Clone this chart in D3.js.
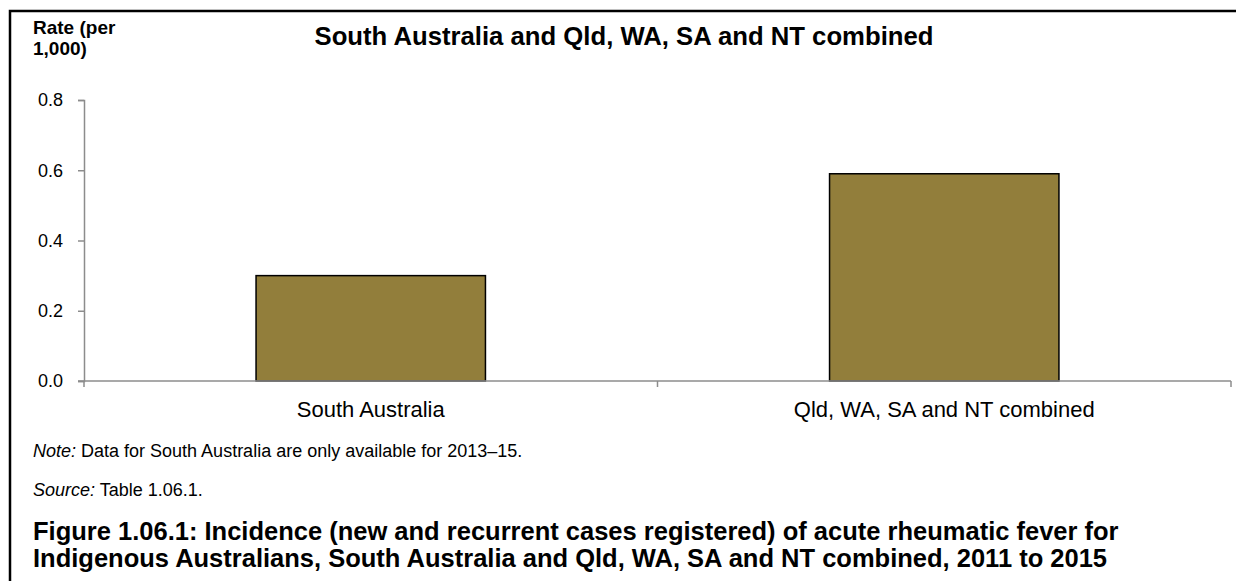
<!DOCTYPE html>
<html>
<head>
<meta charset="utf-8">
<script src="https://cdn.jsdelivr.net/npm/d3@7"></script>
<style>
  body { margin: 0; background: #fff; }
  svg { display: block; font-family: "Liberation Sans", Arial, sans-serif; }
</style>
</head>
<body>
<div id="chart"></div>
<script>
const categories = ["South Australia", "Qld, WA, SA and NT combined"]
const rates = [0.30, 0.59]
const yTicks = [0, 0.2, 0.4, 0.6, 0.8]

const width = 1236
const height = 581
const plot = { left: 84, right: 1231, top: 100, bottom: 381 }

const svg = d3.select("#chart").append("svg")
    .attr("width", width)
    .attr("height", height)

// frame (left + top only)
svg.append("path")
    .attr("d", `M10,${height} V11 H${width}`)
    .attr("fill", "none")
    .attr("stroke", "#000")
    .attr("stroke-width", 2.5)

const x = d3.scaleBand()
    .domain(categories)
    .range([plot.left, plot.right])
    .paddingInner(0.6)
    .paddingOuter(0.3)

const xBounds = d3.scaleBand().domain(categories).range([plot.left, plot.right])

const y = d3.scaleLinear().domain([0, 0.8]).range([plot.bottom, plot.top])

// y axis
const yAxis = svg.append("g")
    .attr("transform", `translate(${plot.left},0)`)
    .call(d3.axisLeft(y).tickValues(yTicks).tickFormat(d3.format(".1f")).tickSize(6).tickPadding(15))
yAxis.select(".domain").attr("stroke", "#8c8c8c").attr("stroke-width", 1.5)
yAxis.selectAll(".tick line").attr("stroke", "#8c8c8c").attr("stroke-width", 1.5)
yAxis.selectAll(".tick text").attr("font-size", 18).attr("fill", "#000")
    .attr("font-family", "Liberation Sans, Arial, sans-serif")

// bars
svg.append("g").selectAll("rect")
    .data(rates)
    .join("rect")
    .attr("x", (d, i) => x(categories[i]))
    .attr("y", d => y(d))
    .attr("width", x.bandwidth())
    .attr("height", d => y(0) - y(d))
    .attr("fill", "#927e3b")
    .attr("stroke", "#000")
    .attr("stroke-width", 1.5)

// x axis: ticks on category boundaries
const xg = svg.append("g").attr("transform", `translate(0,${plot.bottom})`)
xg.append("line")
    .attr("x1", plot.left - 6).attr("x2", plot.right)
    .attr("stroke", "#8c8c8c").attr("stroke-width", 1.5)
const bounds = categories.map(c => xBounds(c)).concat([plot.right])
xg.selectAll(".bt").data(bounds).join("line")
    .attr("class", "bt")
    .attr("x1", d => d).attr("x2", d => d)
    .attr("y1", 0).attr("y2", 6)
    .attr("stroke", "#8c8c8c").attr("stroke-width", 1.5)
xg.selectAll("text").data(categories).join("text")
    .attr("x", d => xBounds(d) + xBounds.bandwidth() / 2)
    .attr("y", 36)
    .attr("text-anchor", "middle")
    .attr("font-size", 22)
    .text(d => d)

// axis title
svg.append("text").attr("x", 33).attr("y", 34)
    .attr("font-size", 19).attr("font-weight", "bold")
    .selectAll("tspan").data(["Rate (per", "1,000)"]).join("tspan")
    .attr("x", 33).attr("dy", (d, i) => i ? 21 : 0).text(d => d)

// chart title
svg.append("text").attr("x", 624).attr("y", 45)
    .attr("text-anchor", "middle")
    .attr("font-size", 25.7).attr("font-weight", "bold")
    .text("South Australia and Qld, WA, SA and NT combined")

// notes
const note = svg.append("text").attr("x", 33).attr("y", 457).attr("font-size", 18)
note.append("tspan").attr("font-style", "italic").text("Note:")
note.append("tspan").text(" Data for South Australia are only available for 2013\u201315.")

const src = svg.append("text").attr("x", 33).attr("y", 496).attr("font-size", 18)
src.append("tspan").attr("font-style", "italic").text("Source:")
src.append("tspan").text(" Table 1.06.1.")

svg.append("text").attr("x", 33).attr("y", 540)
    .attr("font-size", 25.5).attr("font-weight", "bold")
    .selectAll("tspan")
    .data(["Figure 1.06.1: Incidence (new and recurrent cases registered) of acute rheumatic fever for",
           "Indigenous Australians, South Australia and Qld, WA, SA and NT combined, 2011 to 2015"])
    .join("tspan")
    .attr("x", 33).attr("dy", (d, i) => i ? 27 : 0).text(d => d)
</script>
</body>
</html>
